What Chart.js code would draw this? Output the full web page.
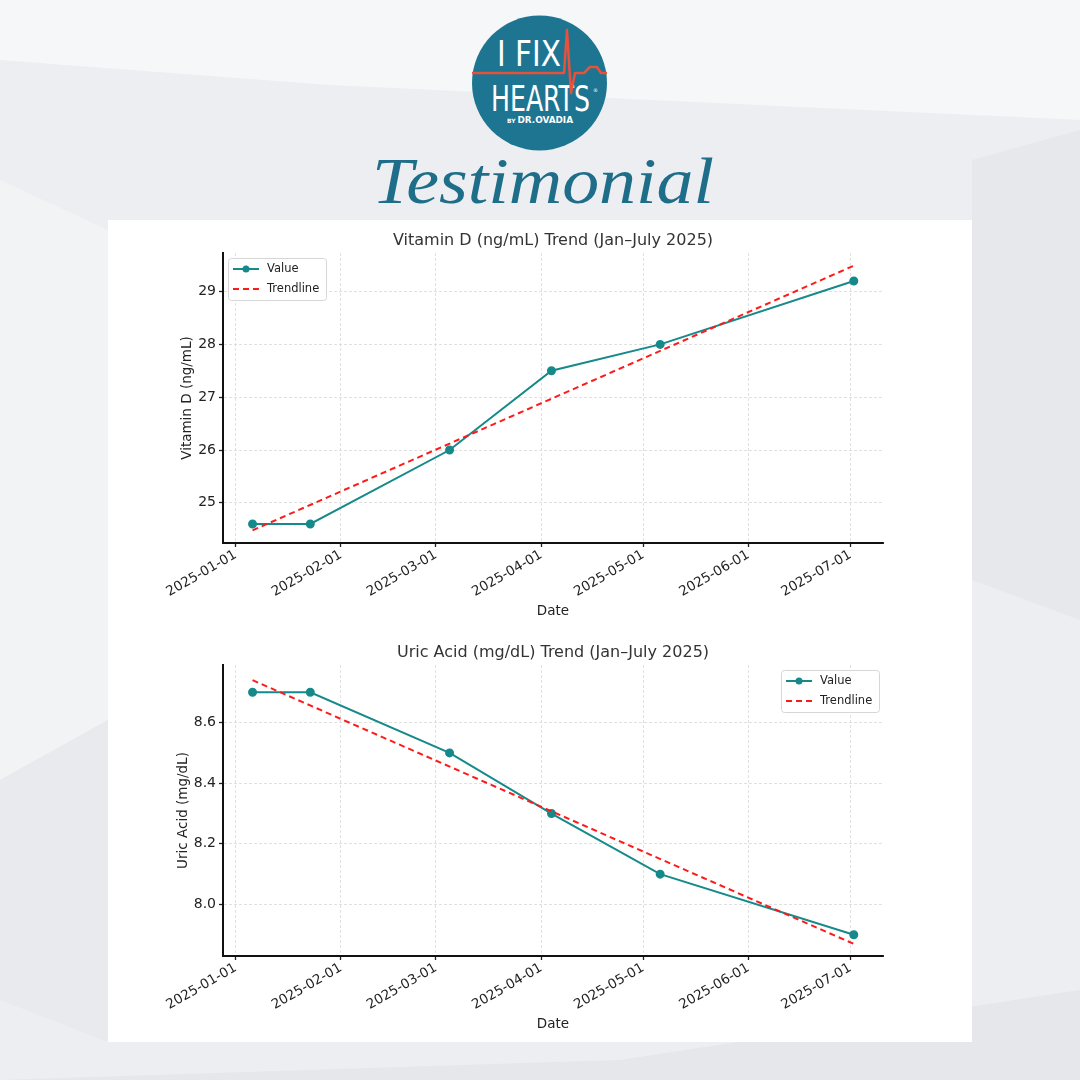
<!DOCTYPE html>
<html>
<head>
<meta charset="utf-8">
<script src="https://cdn.jsdelivr.net/npm/chart.js@4.4.0/dist/chart.umd.min.js"></script>
<style>
  body { margin: 0; width: 1080px; height: 1080px; overflow: hidden; background: #eceef1; position: relative; font-family: "DejaVu Sans", sans-serif; }
  #bg, #header { position: absolute; left: 0; top: 0; }
  #panel { position: absolute; left: 108px; top: 220px; width: 864px; height: 822px; background: #ffffff; }
  .box { position: absolute; left: 108px; width: 864px; }
</style>
</head>
<body>
<svg id="bg" width="1080" height="1080">
  <polygon points="0,0 1080,0 1080,120 330,85 0,60" fill="#f6f7f9"/>
  <polygon points="0,180 108,230 108,720 0,780" fill="#f2f3f5"/>
  <polygon points="972,160 1080,130 1080,620 972,580" fill="#e6e8ec"/>
  <polygon points="0,1080 1080,1080 1080,990 620,1060" fill="#e5e7ea"/>
  <polygon points="0,780 108,720 108,1042 0,1000" fill="#e8eaed"/>
</svg>
<svg id="header" width="1080" height="220">
  <circle cx="539.5" cy="83" r="67.5" fill="#1d7592"/>
  <text x="497" y="66" fill="#fff" font-family="Liberation Sans Narrow, DejaVu Sans Condensed, sans-serif" font-size="35" textLength="64" lengthAdjust="spacingAndGlyphs">I FIX</text>
  <text x="491" y="111" fill="#fff" font-family="Liberation Sans Narrow, DejaVu Sans Condensed, sans-serif" font-size="35" textLength="99" lengthAdjust="spacingAndGlyphs">HEARTS</text>
  <text x="593" y="92" fill="#fff" font-family="DejaVu Sans" font-size="5">®</text>
  <text x="507" y="123" fill="#fff" font-family="DejaVu Sans Condensed, sans-serif" font-weight="bold" font-size="9" textLength="66" lengthAdjust="spacingAndGlyphs"><tspan font-size="6">BY </tspan>DR.OVADIA</text>
  <polyline points="472,73 564,73 567,30 571,93 575,73 584,73 590,67 597,67 601,73 607,73" fill="none" stroke="#e8513a" stroke-width="2.5" stroke-linejoin="round"/>
  <text x="372" y="203" fill="#1f6e89" font-family="Liberation Serif, DejaVu Serif, serif" font-style="italic" font-size="66" textLength="342" lengthAdjust="spacingAndGlyphs">Testimonial</text>
</svg>
<div id="panel"></div>
<div class="box" style="top:222px;height:412px"><canvas id="vitaminChart"></canvas></div>
<div class="box" style="top:634px;height:408px"><canvas id="uricChart"></canvas></div>

<script>
const dates = ['2025-01-06', '2025-01-23', '2025-03-05', '2025-04-04', '2025-05-06', '2025-07-02'];
const vitaminD = [24.6, 24.6, 26.0, 27.5, 28.0, 29.2];
const uricAcid = [8.7, 8.7, 8.5, 8.3, 8.1, 7.9];

// trendline end points
const trendDates = ['2025-01-06', '2025-07-02'];
const vitaminDTrend = [24.48, 29.49];
const uricAcidTrend = [8.74, 7.87];

// tick labels
const monthTicks = ['2025-01-01', '2025-02-01', '2025-03-01', '2025-04-01', '2025-05-01', '2025-06-01', '2025-07-01'];
const vitaminDTicks = [25, 26, 27, 28, 29];
const uricAcidTicks = [8.0, 8.2, 8.4, 8.6];

const tealColor = '#16898a';
const redColor = '#ff1a1a';
const textColor = '#222';
const fontFamily = 'DejaVu Sans';

// days since 2025-01-01
function dayOf(s)
{
    return (Date.parse(s) - Date.parse('2025-01-01')) / 86400000;
}

// title drawn above the plot area
const plotTitle = {
    id: 'plotTitle',
    afterDraw(chart, args, opts)
    {
        const { ctx, chartArea } = chart;
        ctx.save();
        ctx.font = '16px ' + fontFamily;
        ctx.fillStyle = '#333';
        ctx.textAlign = 'center';
        ctx.textBaseline = 'middle';
        ctx.fillText(opts.text, (chartArea.left + chartArea.right) / 2, chartArea.top - 12);
        ctx.restore();
    }
};

// legend box inside the plot, like matplotlib
const insideLegend = {
    id: 'insideLegend',
    afterDatasetsDraw(chart, args, opts)
    {
        const { ctx, chartArea } = chart;
        const w = 98, h = 42;
        const x = opts.corner === 'left' ? chartArea.left + 5 : chartArea.right - w - 4;
        const y = chartArea.top + 5;
        ctx.save();
        ctx.fillStyle = 'rgba(255,255,255,0.85)';
        ctx.strokeStyle = '#d6d6d6';
        ctx.lineWidth = 1;
        ctx.beginPath();
        ctx.roundRect(x + 0.5, y + 0.5, w, h, 3);
        ctx.fill();
        ctx.stroke();
        chart.data.datasets.forEach((ds, i) => {
            const ly = y + 11 + i * 20;
            ctx.strokeStyle = ds.borderColor;
            ctx.lineWidth = 2;
            ctx.setLineDash(ds.borderDash || []);
            ctx.beginPath();
            ctx.moveTo(x + 5, ly);
            ctx.lineTo(x + 31, ly);
            ctx.stroke();
            ctx.setLineDash([]);
            if (ds.pointRadius)
            {
                ctx.fillStyle = ds.borderColor;
                ctx.beginPath();
                ctx.arc(x + 18, ly, 3.5, 0, Math.PI * 2);
                ctx.fill();
            }
            ctx.fillStyle = textColor;
            ctx.font = '11.5px ' + fontFamily;
            ctx.textBaseline = 'middle';
            ctx.fillText(ds.label, x + 39, ly);
        });
        ctx.restore();
    }
};

function makeChart(id, p)
{
    const gridOpts = { color: '#d8d8d8', lineWidth: 0.8, tickLength: 4, tickColor: '#222', tickWidth: 1.3, tickBorderDash: [] };
    const borderOpts = { display: true, color: '#111', width: 2, dash: [3, 2] };

    return new Chart(document.getElementById(id).getContext('2d'), {
        type: 'line',
        data: {
            datasets: [{
                label: 'Value',
                data: dates.map((d, i) => ({ x: dayOf(d), y: p.values[i] })),
                borderColor: tealColor,
                backgroundColor: tealColor,
                borderWidth: 2,
                pointRadius: 3.5,
                pointHoverRadius: 3.5,
                tension: 0,
                order: 1
            }, {
                label: 'Trendline',
                data: trendDates.map((d, i) => ({ x: dayOf(d), y: p.trend[i] })),
                borderColor: redColor,
                borderDash: [6, 4],
                borderWidth: 2,
                pointRadius: 0,
                tension: 0,
                order: 0
            }]
        },
        options: {
            animation: false,
            responsive: true,
            maintainAspectRatio: false,
            layout: { padding: { top: 31, right: 89, left: 0, bottom: 0 } },
            plugins: {
                legend: { display: false },
                tooltip: { enabled: false },
                plotTitle: { text: p.title },
                insideLegend: { corner: p.corner }
            },
            scales: {
                x: {
                    type: 'linear',
                    min: -3.7,
                    max: 190.6,
                    afterBuildTicks: s => { s.ticks = monthTicks.map(m => ({ value: dayOf(m) })); },
                    afterFit: s => { s.height = p.xHeight; },
                    ticks: {
                        autoSkip: false,
                        minRotation: 30,
                        maxRotation: 30,
                        padding: 0,
                        color: textColor,
                        font: { family: fontFamily, size: 13.5 },
                        callback: (v, i) => monthTicks[i]
                    },
                    grid: gridOpts,
                    border: borderOpts,
                    title: { display: true, text: 'Date', color: textColor, font: { family: fontFamily, size: 13.5 }, padding: { top: 0, bottom: p.datePad } }
                },
                y: {
                    min: p.yMin,
                    max: p.yMax,
                    afterBuildTicks: s => { s.ticks = p.yTicks.map(v => ({ value: v })); },
                    afterFit: s => { s.width = 115; },
                    ticks: {
                        padding: 3,
                        color: textColor,
                        font: { family: fontFamily, size: 14 },
                        callback: v => v.toFixed(p.decimals)
                    },
                    grid: gridOpts,
                    border: borderOpts,
                    title: { display: true, text: p.yTitle, color: textColor, font: { family: fontFamily, size: 13.5 }, padding: { top: p.yTitlePad } }
                }
            }
        },
        plugins: [plotTitle, insideLegend]
    });
}

makeChart('vitaminChart', {
    values: vitaminD, trend: vitaminDTrend, yTicks: vitaminDTicks,
    yMin: 24.24, yMax: 29.73, decimals: 0,
    title: 'Vitamin D (ng/mL) Trend (Jan–July 2025)',
    yTitle: 'Vitamin D (ng/mL)', yTitlePad: 71,
    corner: 'left', xHeight: 91, datePad: 14
});

makeChart('uricChart', {
    values: uricAcid, trend: uricAcidTrend, yTicks: uricAcidTicks,
    yMin: 7.83, yMax: 8.79, decimals: 1,
    title: 'Uric Acid (mg/dL) Trend (Jan–July 2025)',
    yTitle: 'Uric Acid (mg/dL)', yTitlePad: 67,
    corner: 'right', xHeight: 86, datePad: 9
});
</script>
</body>
</html>
